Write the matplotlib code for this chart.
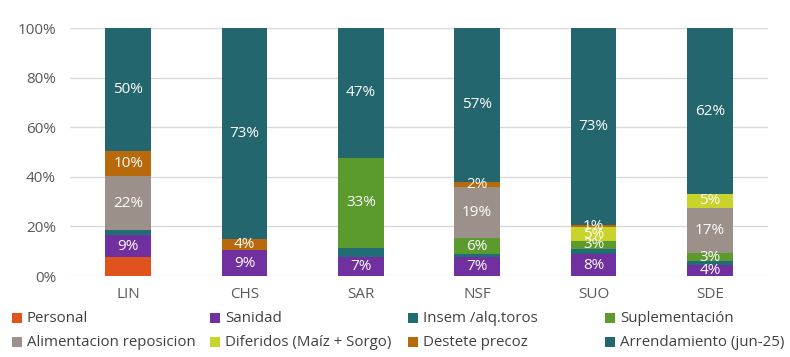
import matplotlib
matplotlib.use("Agg")
import matplotlib.pyplot as plt
from matplotlib.patches import Rectangle
import numpy as np

plt.rcParams['font.family'] = ['Open Sans', 'DejaVu Sans']

categories = ["LIN", "CHS", "SAR", "NSF", "SUO", "SDE"]

personal = [7.5, 0, 0, 0, 0, 0]
sanidad = [9, 9, 7, 7, 8, 4]
insem = [2, 0, 3, 1, 2, 1.5]
suplementacion = [0, 0, 33, 6, 3, 3]
alimentacion = [22, 0, 0, 19, 0, 17]
diferidos = [0, 0, 0, 0, 5, 5]
destete = [10, 4, 0, 2, 1, 0]
arrendamiento = [50, 73, 47, 57, 73, 62]

series_names = ["Personal", "Sanidad", "Insem /alq.toros", "Suplementación",
                "Alimentacion reposicion", "Diferidos (Maíz + Sorgo)",
                "Destete precoz", "Arrendamiento (jun-25)"]
series_values = [personal, sanidad, insem, suplementacion, alimentacion,
                 diferidos, destete, arrendamiento]
colors = ["#E0531C", "#7030A0", "#226C75", "#5B9B2E", "#9B918A",
          "#C8D32B", "#B8690C", "#23666E"]
labeled = [False, True, False, True, True, True, True, True]

data = np.array(series_values, dtype=float)
totals = data.sum(axis=0)
norm = data / totals * 100

fig = plt.figure(figsize=(7.9, 3.57), dpi=100)
ax = fig.add_axes([70/790, 1-276/357, (768-70)/790, (276-28)/357])

x = np.arange(len(categories))
width = 0.395
bottom = np.zeros(len(categories))
for name, vals, raw, col, lab in zip(series_names, norm, data, colors, labeled):
    ax.bar(x, vals, width, bottom=bottom, color=col, edgecolor='none', zorder=3)
    if lab:
        for i in range(len(categories)):
            if raw[i] > 0:
                ax.text(x[i], bottom[i] + vals[i] / 2, f"{raw[i]:.0f}%",
                        ha='center', va='center', color='white', fontsize=11, zorder=4)
    bottom += vals

ax.set_xlim(-0.5, len(categories) - 0.5)
ax.set_ylim(0, 100)
ax.set_yticks(np.arange(0, 101, 20))
ax.set_yticklabels([f"{v}%" for v in range(0, 101, 20)])
ax.set_xticks(x)
ax.set_xticklabels(categories)
ax.tick_params(axis='both', length=0, colors='#595959', labelsize=11)
ax.tick_params(axis='y', pad=10)
ax.tick_params(axis='x', pad=8)
ax.grid(axis='y', color='#D9D9D9', linewidth=1, zorder=0)
for s in ax.spines.values():
    s.set_visible(False)

# legend drawn manually in 4 equally spaced columns
col_x = [12, 210, 408, 605]
row_y = [318, 342]
for idx, (name, col) in enumerate(zip(series_names, colors)):
    r = 0 if idx < 4 else 1
    c = idx if idx < 4 else idx - 4
    xs = col_x[c]
    ys = row_y[r]
    fig.patches.append(Rectangle((xs/790, 1-(ys+5)/357), 10/790, 10/357,
                                 transform=fig.transFigure, facecolor=col,
                                 edgecolor='none'))
    fig.text((xs+15)/790, 1-ys/357, name, ha='left', va='center',
             fontsize=10.8, color='#404040')

fig.savefig("out.png", dpi=100)
